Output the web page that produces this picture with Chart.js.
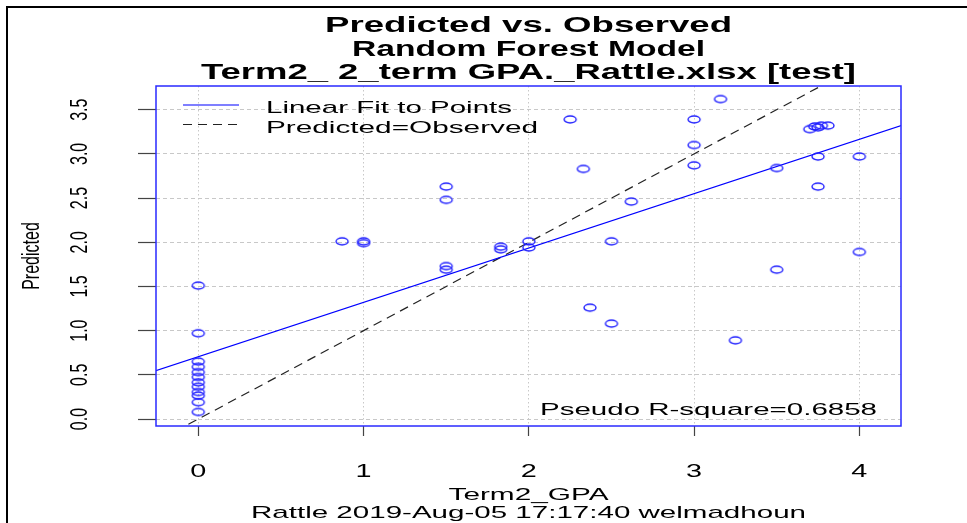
<!DOCTYPE html>
<html>
<head>
<meta charset="utf-8">
<script src="https://cdn.jsdelivr.net/npm/chart.js@4"></script>
<style>
html,body{margin:0;padding:0;background:#fff;}
canvas{display:block;}
</style>
</head>
<body>
<canvas id="c" width="967" height="523"></canvas>
<script>
// ---- data ----
const observed = [
  0, 0, 0, 0, 0, 0, 0, 0, 0, 0, 0, 0,
  0.87, 1.0, 1.0,
  1.5, 1.5, 1.5, 1.5,
  1.83, 1.83,
  2.0, 2.0,
  2.25, 2.33, 2.37, 2.5, 2.5, 2.62,
  3.0, 3.0, 3.0, 3.16, 3.25,
  3.5, 3.5,
  3.7, 3.73, 3.75, 3.77, 3.81,
  3.75, 3.75,
  4.0, 4.0
];
const predicted = [
  1.51, 0.97, 0.65, 0.59, 0.53, 0.475, 0.415, 0.365, 0.305, 0.265, 0.19, 0.08,
  2.01, 2.01, 1.99,
  2.63, 2.48, 1.73, 1.69,
  1.95, 1.92,
  2.01, 1.94,
  3.39, 2.83, 1.26, 2.01, 1.08, 2.46,
  3.39, 3.10, 2.87, 3.62, 0.89,
  2.84, 1.69,
  3.28, 3.31, 3.30, 3.32, 3.32,
  2.97, 2.63,
  2.97, 1.89
];
const fitX = [-0.3, 4.3];
const fitY = [0.52, 3.35];
const diagX = [-0.3, 4.3];
const diagY = [-0.3, 4.3];
const xTickLabels = ['0', '1', '2', '3', '4'];
const yTickLabels = ['0.0', '0.5', '1.0', '1.5', '2.0', '2.5', '3.0', '3.5'];
const titleLines = ['Predicted vs. Observed', 'Random Forest Model', 'Term2_ 2_term GPA._Rattle.xlsx [test]'];
const legendLabels = ['Linear Fit to Points', 'Predicted=Observed'];
const xAxisTitle = 'Term2_GPA';
const yAxisTitle = 'Predicted';
const subTitle = 'Rattle 2019-Aug-05 17:17:40 welmadhoun';
const rsqText = 'Pseudo R-square=0.6858';

const FONT = '"Liberation Sans", Arial, sans-serif';
Chart.defaults.font.family = FONT;

// elliptical open-circle marker (the reference is horizontally stretched)
function ellipseMarker() {
  const c = document.createElement('canvas');
  c.width = 16; c.height = 11;
  const g = c.getContext('2d');
  g.strokeStyle = '#2020ff';
  g.lineWidth = 1.4;
  g.beginPath();
  g.ellipse(8, 5.5, 6, 3.5, 0, 0, Math.PI * 2);
  g.stroke();
  return c;
}

function txt(ctx, s, x, y, size, opts) {
  opts = opts || {};
  ctx.save();
  ctx.font = (opts.bold ? 'bold ' : '') + size + 'px ' + FONT;
  ctx.fillStyle = '#000';
  ctx.textBaseline = opts.baseline || 'alphabetic';
  ctx.textAlign = opts.align || 'center';
  ctx.translate(x, y);
  if (opts.rotate) ctx.rotate(opts.rotate);
  let sx = opts.sx || 1;
  if (opts.width) sx = opts.width / ctx.measureText(s).width;
  if (opts.rotate) ctx.scale(1, sx); else ctx.scale(sx, 1);
  ctx.fillText(s, 0, 0);
  ctx.restore();
}

const decor = {
  id: 'decor',
  beforeDraw(chart) {
    const ctx = chart.ctx;
    ctx.save();
    ctx.fillStyle = '#fff';
    ctx.fillRect(0, 0, chart.width, chart.height);
    ctx.fillStyle = '#000';
    ctx.fillRect(6, 6, chart.width - 6, 2);
    ctx.fillRect(6, 6, 2, chart.height - 6);
    ctx.restore();
  },
  afterDraw(chart) {
    const ctx = chart.ctx;
    const ca = chart.chartArea;
    const xs = chart.scales.x, ys = chart.scales.y;
    const cx = (ca.left + ca.right) / 2;
    // plot box
    ctx.save();
    ctx.strokeStyle = '#2a2aff';
    ctx.lineWidth = 1.5;
    ctx.strokeRect(ca.left, ca.top, ca.right - ca.left, ca.bottom - ca.top);
    ctx.restore();
    // titles
    const tw = [407, 353, 655];
    const tb = [32, 55.5, 79];
    titleLines.forEach((t, i) => txt(ctx, t, cx, tb[i], 22, {bold: true, width: tw[i]}));
    // x tick labels
    xTickLabels.forEach(l => txt(ctx, l, xs.getPixelForValue(parseFloat(l)), 477, 18, {sx: 1.6}));
    // y tick labels (rotated)
    yTickLabels.forEach(l => txt(ctx, l, 81, ys.getPixelForValue(parseFloat(l)), 16,
      {rotate: -Math.PI / 2, baseline: 'middle', sx: 1.45}));
    // axis titles
    txt(ctx, xAxisTitle, cx, 500, 17, {width: 160});
    txt(ctx, subTitle, cx, 518, 17, {width: 555});
    txt(ctx, yAxisTitle, 33, (ca.top + ca.bottom) / 2, 16, {rotate: -Math.PI / 2, baseline: 'middle', sx: 1.45});
    // legend
    ctx.save();
    ctx.strokeStyle = '#0000ff';
    ctx.lineWidth = 1.2;
    ctx.beginPath(); ctx.moveTo(183, 105); ctx.lineTo(239, 105); ctx.stroke();
    ctx.strokeStyle = '#222';
    ctx.lineWidth = 1.2;
    ctx.setLineDash([9, 6]);
    ctx.beginPath(); ctx.moveTo(183, 124.5); ctx.lineTo(239, 124.5); ctx.stroke();
    ctx.restore();
    txt(ctx, legendLabels[0], 266, 113.3, 17, {align: 'left', width: 246});
    txt(ctx, legendLabels[1], 266, 132.7, 17, {align: 'left', width: 272});
    // pseudo R-square
    txt(ctx, rsqText, 540, 415, 17, {align: 'left', width: 337});
  }
};

const marker = ellipseMarker();

new Chart(document.getElementById('c'), {
  type: 'scatter',
  data: {
    datasets: [
      {
        label: 'points',
        data: observed.map((x, i) => ({x: x, y: predicted[i]})),
        pointStyle: marker,
        pointRadius: 5,
        pointHoverRadius: 5,
        showLine: false
      },
      {
        label: legendLabels[0],
        data: fitX.map((x, i) => ({x: x, y: fitY[i]})),
        showLine: true,
        borderColor: '#0000ff',
        borderWidth: 1.2,
        pointRadius: 0,
        fill: false
      },
      {
        label: legendLabels[1],
        data: diagX.map((x, i) => ({x: x, y: diagY[i]})),
        showLine: true,
        borderColor: '#222222',
        borderWidth: 1.2,
        borderDash: [9, 6],
        pointRadius: 0,
        fill: false
      }
    ]
  },
  options: {
    responsive: false,
    animation: false,
    events: [],
    layout: {padding: {left: 138, right: 66, top: 86, bottom: 87}},
    plugins: {legend: {display: false}, title: {display: false}, tooltip: {enabled: false}},
    scales: {
      x: {
        type: 'linear',
        min: -0.256,
        max: 4.252,
        afterFit(s) { s.height = 10; },
        ticks: {display: false, stepSize: 1, includeBounds: false},
        grid: {color: '#c8c8c8', lineWidth: 1, drawTicks: true, tickLength: 10, tickColor: '#444', tickWidth: 1.2, tickBorderDash: []},
        border: {display: false, dash: [1.5, 2.5]}
      },
      y: {
        type: 'linear',
        min: -0.079,
        max: 3.768,
        afterFit(s) { s.width = 18; },
        ticks: {display: false, stepSize: 0.5, includeBounds: false},
        grid: {color: '#c8c8c8', lineWidth: 1, drawTicks: true, tickLength: 18, tickColor: '#444', tickWidth: 1.2, tickBorderDash: []},
        border: {display: false, dash: [4, 3]}
      }
    }
  },
  plugins: [decor]
});
</script>
</body>
</html>
